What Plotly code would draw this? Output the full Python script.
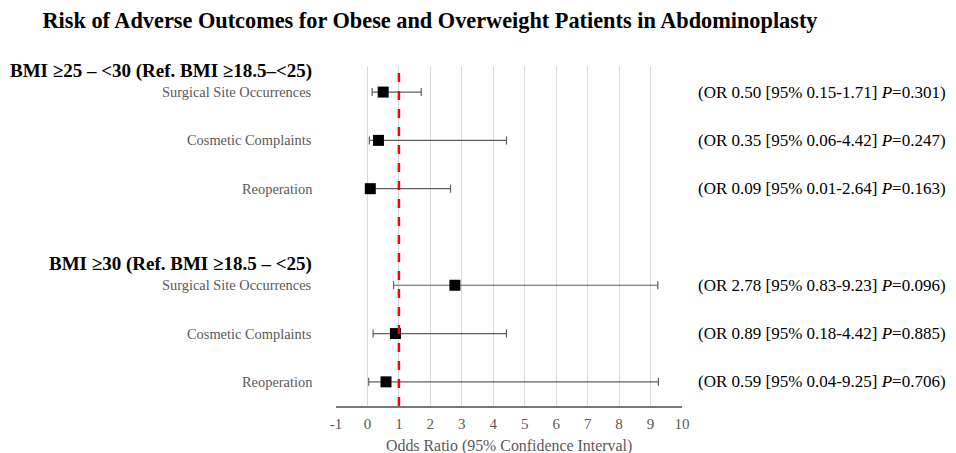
import plotly.graph_objects as go

# ---- data ----
groups = ["BMI ≥25 – <30 (Ref. BMI ≥18.5–<25)", "BMI ≥30 (Ref. BMI ≥18.5 – <25)"]
outcomes = ["Surgical Site Occurrences", "Cosmetic Complaints", "Reoperation"]
odds_g1 = [0.50, 0.35, 0.09]
low_g1 = [0.15, 0.06, 0.01]
high_g1 = [1.71, 4.42, 2.64]
p_g1 = ["0.301", "0.247", "0.163"]
odds_g2 = [2.78, 0.89, 0.59]
low_g2 = [0.83, 0.18, 0.04]
high_g2 = [9.23, 4.42, 9.25]
p_g2 = ["0.096", "0.885", "0.706"]
x_ticks = list(range(-1, 11))
x_title = "Odds Ratio (95% Confidence Interval)"

FONT = "Liberation Serif"
GRAY = "#595959"

fig = go.Figure()
annotations = []

for gi, (odds, low, high, pv) in enumerate([(odds_g1, low_g1, high_g1, p_g1),
                                              (odds_g2, low_g2, high_g2, p_g2)]):
    base = gi * 4
    ys = [base + i for i in range(len(outcomes))]
    fig.add_trace(go.Scatter(
        x=odds, y=ys, mode="markers",
        marker=dict(symbol="square", size=11, color="black"),
        error_x=dict(type="data", symmetric=False,
                     array=[h - o for h, o in zip(high, odds)],
                     arrayminus=[o - l for o, l in zip(odds, low)],
                     color="#5f5f5f", thickness=1.2, width=4),
        showlegend=False, hoverinfo="skip"))
    # group header
    annotations.append(dict(xref="paper", yref="y", x=-0.064, y=base - 0.43,
                            xanchor="right", yanchor="middle", showarrow=False,
                            text="<b>" + groups[gi] + "</b>",
                            font=dict(family=FONT, size=19, color="black")))
    for i, name in enumerate(outcomes):
        annotations.append(dict(xref="paper", yref="y", x=-0.064, y=ys[i],
                                xanchor="right", yanchor="middle", showarrow=False,
                                text=name, font=dict(family=FONT, size=14.4, color=GRAY)))
        annotations.append(dict(xref="paper", yref="y", x=1.04, y=ys[i],
                                xanchor="left", yanchor="middle", showarrow=False,
                                text=f"(OR {odds[i]:.2f} [95% {low[i]:.2f}-{high[i]:.2f}] <i>P</i>={pv[i]})",
                                font=dict(family=FONT, size=17, color="black")))

# x-axis title
annotations.append(dict(xref="paper", yref="paper", x=0.5, y=0, yshift=-40,
                        xanchor="center", yanchor="middle", showarrow=False,
                        text=x_title, font=dict(family=FONT, size=15.9, color=GRAY)))

fig.add_shape(type="line", xref="x", yref="paper", x0=1, x1=1, y0=0, y1=0.99,
              line=dict(color="red", width=2.5, dash="dash"), layer="above")

fig.update_layout(
    width=948, height=445,
    margin=dict(l=328, r=274, t=58, b=47, autoexpand=False),
    paper_bgcolor="white", plot_bgcolor="white",
    title=dict(text="<b>Risk of Adverse Outcomes for Obese and Overweight Patients in Abdominoplasty</b>",
               x=422 / 948, xanchor="center", y=1 - 12 / 445, yanchor="middle",
               font=dict(family=FONT, size=22.3, color="black")),
    annotations=annotations,
    xaxis=dict(range=[-1, 10], tickvals=x_ticks, ticktext=[str(v) for v in x_ticks],
               showgrid=True, gridcolor="#d9d9d9", gridwidth=1, zeroline=False,
               showline=True, linecolor="#7a7a7a", linewidth=2, automargin=False,
               ticks="outside", ticklen=3, tickcolor="rgba(0,0,0,0)",
               tickfont=dict(family=FONT, size=15, color=GRAY)),
    yaxis=dict(range=[6.5, -0.54], showticklabels=False, showgrid=False,
               zeroline=False, showline=False, automargin=False),
)

fig.write_html("out.html")
